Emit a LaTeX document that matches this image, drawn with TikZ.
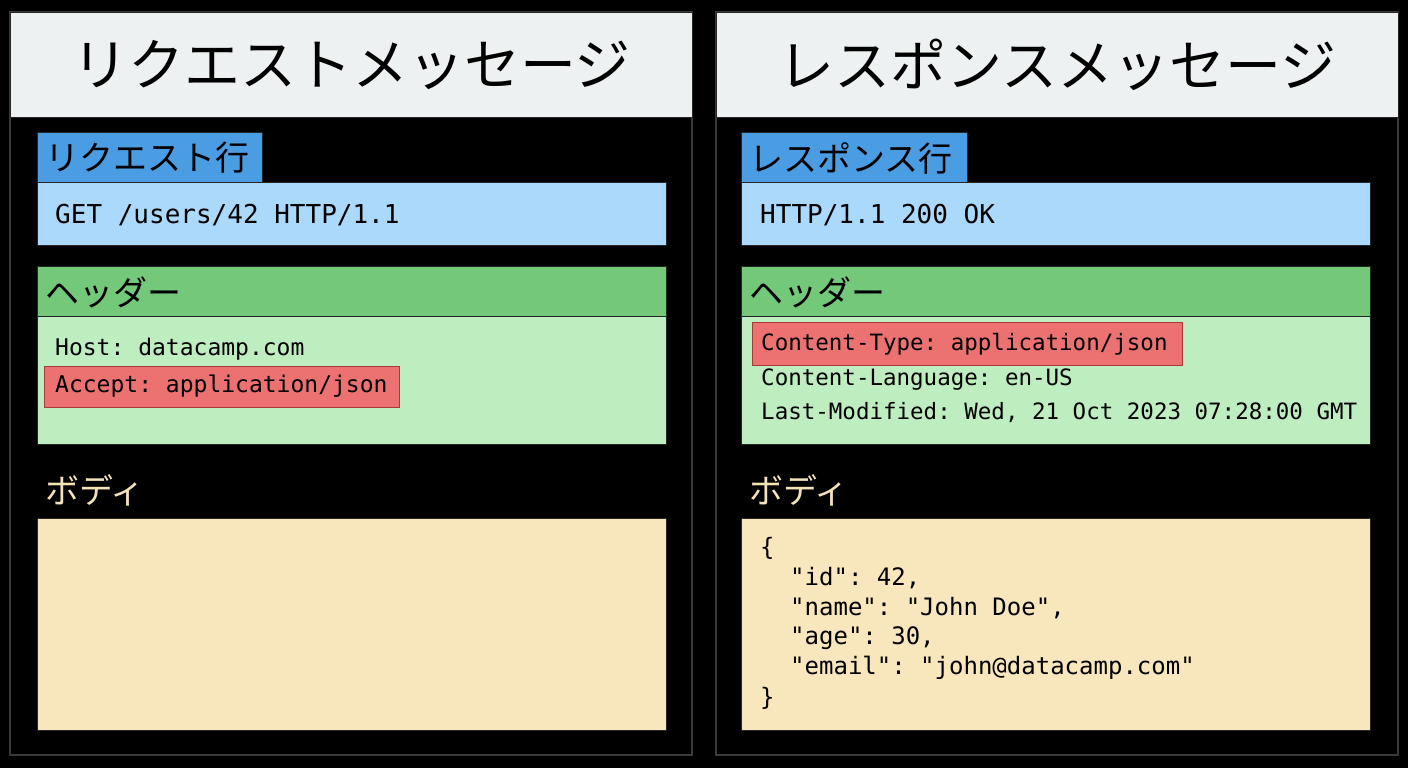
\documentclass[tikz,border=0pt]{standalone}
\usepackage{fontspec}
\setmonofont{DejaVu Sans Mono}
\newfontfamily\jpfont{Noto Sans CJK JP}
\usetikzlibrary{positioning}

\definecolor{titlebg}{HTML}{EEF1F1}
\definecolor{tabblue}{HTML}{4A9DE2}
\definecolor{barblue}{HTML}{AAD9FB}
\definecolor{hdrgreen}{HTML}{74C87A}
\definecolor{hdrlight}{HTML}{BEEDBF}
\definecolor{accentred}{HTML}{EC7272}
\definecolor{accentedge}{HTML}{A83A3A}
\definecolor{bodycream}{HTML}{F8E7BC}
\definecolor{bodylabel}{HTML}{F3E2B8}
\definecolor{panelgray}{HTML}{3A3A3A}

\tikzset{
  panel/.style={draw=panelgray, line width=1.5pt},
  box/.style={draw=black!85, line width=1pt, inner sep=0pt, anchor=north west},
  titletext/.style={font=\jpfont\fontsize{56}{60}\selectfont},
  jplabel/.style={anchor=west, inner sep=0pt, font=\jpfont\fontsize{34}{38}\selectfont},
  code/.style={anchor=west, inner sep=0pt, font=\ttfamily\fontsize{#1}{#1}\selectfont},
  code/.default=23
}

\begin{document}
\begin{tikzpicture}[x=1pt,y=-1pt]
    % Background
    \fill[black] (0,0) rectangle (1408,768);
    \useasboundingbox (0,0) rectangle (1408,768);

    % ---------- Request message ----------
    \draw[panel] (10,12) rectangle (692,755);
    \node[box, fill=titlebg, minimum width=682pt, minimum height=105pt] (reqtitle) at (10,12) {};
    \node[titletext] at (reqtitle.center) {リクエストメッセージ};

    % Request line
    \node[box, fill=tabblue, minimum width=225pt, minimum height=50pt] (reqtab) at (37,132) {};
    \node[jplabel] (reqtablbl) at (45,158) {リクエスト行};
    \node[box, fill=barblue, minimum width=629pt, minimum height=63pt] (reqline) at (37,182) {};
    \node[code=26] (reqlinetxt) at (55,215) {GET /users/42 HTTP/1.1};

    % Headers
    \node[box, fill=hdrgreen, minimum width=629pt, minimum height=50pt] (reqhdr) at (37,266) {};
    \node[jplabel] (reqhdrlbl) at (45,292) {ヘッダー};
    \node[box, fill=hdrlight, minimum width=629pt, minimum height=128pt] (reqhdrbody) at (37,316) {};
    \node[code] (host) at (55,349) {Host: datacamp.com};
    \node[box, draw=accentedge, fill=accentred, minimum width=355pt, minimum height=41pt] (acceptbox) at (44,366) {};
    \node[code] (accept) at (55,386) {Accept: application/json};

    % Body
    \node[jplabel, text=bodylabel] (reqbodylbl) at (45,490) {ボディ};
    \node[box, fill=bodycream, minimum width=629pt, minimum height=212pt] (reqbody) at (37,518) {};

    % ---------- Response message ----------
    \draw[panel] (716,12) rectangle (1398,755);
    \node[box, fill=titlebg, minimum width=682pt, minimum height=105pt] (restitle) at (716,12) {};
    \node[titletext] at (restitle.center) {レスポンスメッセージ};

    % Status line
    \node[box, fill=tabblue, minimum width=226pt, minimum height=50pt] (restab) at (741,132) {};
    \node[jplabel] (restablbl) at (749,158) {レスポンス行};
    \node[box, fill=barblue, minimum width=629pt, minimum height=63pt] (resline) at (741,182) {};
    \node[code=26] (reslinetxt) at (760,215) {HTTP/1.1 200 OK};

    % Headers
    \node[box, fill=hdrgreen, minimum width=629pt, minimum height=50pt] (reshdr) at (741,266) {};
    \node[jplabel] (reshdrlbl) at (749,292) {ヘッダー};
    \node[box, fill=hdrlight, minimum width=629pt, minimum height=128pt] (reshdrbody) at (741,316) {};
    \node[box, draw=accentedge, fill=accentred, minimum width=430pt, minimum height=43pt] (ctypebox) at (752,322) {};
    \node[code=22.5] (ctype) at (761,344) {Content-Type: application/json};
    \node[code=22.5] (clang) at (761,380) {Content-Language: en-US};
    \node[code=22.5] (lastmod) at (761,413) {Last-Modified: Wed, 21 Oct 2023 07:28:00 GMT};

    % Body
    \node[jplabel, text=bodylabel] (resbodylbl) at (749,490) {ボディ};
    \node[box, fill=bodycream, minimum width=629pt, minimum height=212pt] (resbody) at (741,518) {};
    \foreach \i/\y/\x/\txt in {1/548/760/{\{}, 2/578/790/{"id": 42,},
        3/608/790/{"name": "John Doe",}, 4/638/790/{"age": 30,},
        5/668/790/{"email": "john@datacamp.com"}, 6/698/760/{\}}}
        \node[code=24] (json\i) at (\x,\y) {\txt};
\end{tikzpicture}
\end{document}
